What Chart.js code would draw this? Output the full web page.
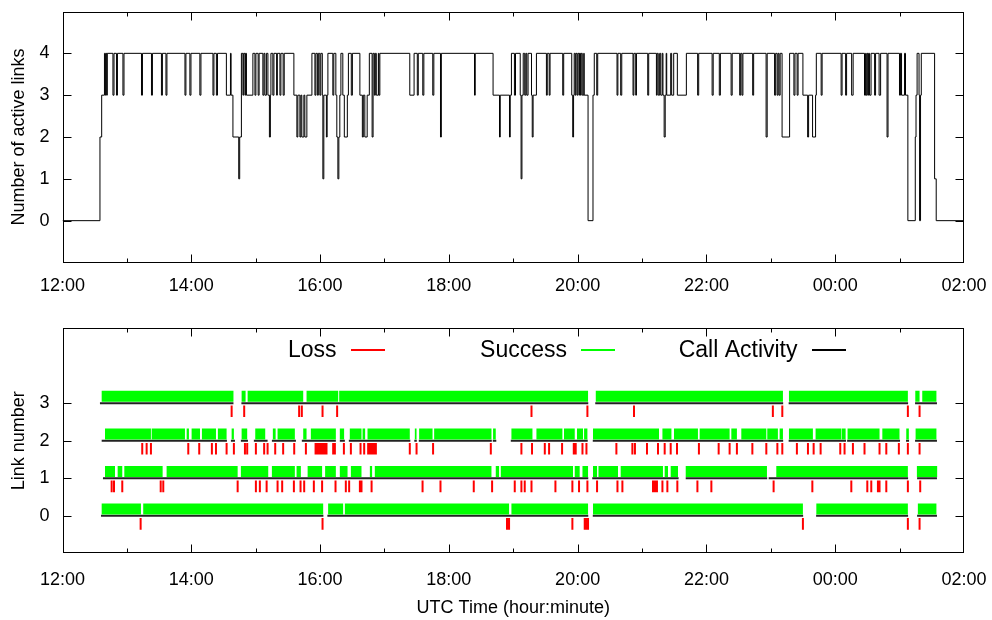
<!DOCTYPE html>
<html><head><meta charset="utf-8">
<script src="https://cdn.jsdelivr.net/npm/chart.js@4/dist/chart.umd.min.js"></script>
<style>
html,body{margin:0;padding:0;background:#fff;}
.box{position:absolute;left:0;width:992px;}
</style></head><body>
<div style="position:relative;width:992px;height:620px;">
<div class="box" style="top:0;height:300px"><canvas id="c1" width="992" height="300"></canvas></div>
<div class="box" style="top:300px;height:320px"><canvas id="c2" width="992" height="320"></canvas></div>
</div>
<script>
// ---------- DATA (time in minutes after 12:00 UTC) ----------
const xTickMinutes = [0, 120, 240, 360, 480, 600, 720, 840];
const xTickLabels = ['12:00', '14:00', '16:00', '18:00', '20:00', '22:00', '00:00', '02:00'];
const activeTicks = [0, 1, 2, 3, 4];
const linkNumbers = [0, 1, 2, 3];
const seriesNames = ['Loss', 'Success', 'Call Activity'];

// [time, number of active links from that time on]
const activeSteps = [
[0,0],[34.9,2],[36.5,3],[39.1,4],[40.0,3],[40.7,4],[41.3,3],[41.7,4],
[47.0,3],[48.0,4],[50.3,3],[51.2,4],[56.3,3],[57.3,4],[73.6,3],[74.5,4],
[82.9,3],[83.8,4],[92.2,3],[93.1,4],[96.4,3],[97.3,4],[114.1,3],[115.0,4],
[118.7,3],[119.7,4],[128.0,3],[129.0,4],[140.2,3],[141.1,4],[143.4,3],[144.4,4],
[152.7,3],[156.5,4],[157.1,3],[158.8,2],[164.2,1],[165.1,2],[166.7,4],
[168.1,3],[168.8,4],[170.0,3],[170.6,4],[171.4,3],[177.4,4],
[179.3,3],[180.2,4],[182.3,3],[183.2,4],[186.7,3],[187.7,4],[188.6,3],[190.0,4],
[191.4,3],[192.8,2],[193.7,3],[194.2,4],[196.0,3],[197.0,4],[199.5,3],[200.2,4],
[202.6,3],[203.5,4],[205.6,3],[206.6,4],
[215.6,3],[218.4,2],[219.3,3],[221.2,2],[222.1,3],[223.0,2],[224.9,3],[225.8,2],[227.7,3],[232.4,4],
[235.2,3],[236.1,4],[237.5,3],[238.4,4],[239.8,3],[240.7,4],
[242.1,3],[242.6,1],[243.5,3],[245.9,2],[246.6,3],[247.3,4],
[251.9,3],[252.8,4],
[254.7,3],[255.6,2],[256.6,1],[257.5,2],[258.4,3],[259.4,4],
[261.2,3],[262.6,2],[265.4,3],[266.4,4],[269.1,3],[270.1,4],
[277.1,3],[279.4,2],[280.3,3],[281.7,2],[283.9,3],[285.9,4],[288.5,2],[289.4,4],
[290.6,3],[291.5,4],[292.4,3],[294.3,4],[294.8,3],[295.7,4],
[323.6,3],[327.6,4],[330.6,3],[331.5,4],[335.7,3],[336.7,4],[345.0,3],[346.0,4],
[352.2,2],[353.0,4],[383.9,3],[384.6,4],
[401.2,3],[407.2,2],[407.9,3],[416.5,2],[417.2,3],[418.3,4],[421.1,3],[422.1,4],
[426.5,3],[427.3,1],[428.1,3],[429.3,4],[430.7,3],[431.7,4],[432.6,3],[433.8,4],
[437.0,3],[437.7,2],[438.5,3],[441.6,4],
[450.9,3],[451.7,4],[453.5,3],[454.3,4],[466.1,3],[467.0,4],
[474.5,3],[475.4,2],[476.2,3],[476.8,4],[477.8,3],[478.5,4],[479.6,3],[480.4,4],
[481.5,3],[481.9,4],[482.6,3],[483.3,4],[484.3,3],[485.7,4],[486.1,3],[489.7,0],
[494.3,3],[495.5,4],[497.8,3],[498.7,4],
[516.7,3],[517.5,4],[520.1,3],[521.1,4],[531.6,3],[532.4,4],[534.1,3],[534.8,4],
[545.3,3],[546.2,4],
[553.4,3],[554.1,4],[555.1,3],[556.4,4],[557.4,3],[558.8,4],[559.5,3],[560.6,2],[561.6,3],[562.5,4],
[563.0,3],[566.7,4],[567.6,3],[569.5,4],[572.9,3],[581.3,4],
[591.8,3],[592.8,4],[605.3,3],[606.3,4],[612.0,3],[613.0,4],[623.0,3],[624.0,4],
[631.0,3],[631.9,4],[633.1,3],[634.0,4],[643.1,3],[644.0,4],
[655.6,2],[656.6,4],
[663.5,3],[664.5,4],[665.9,3],[666.8,4],[667.7,3],[668.7,4],
[670.5,2],[677.5,4],
[681.5,3],[682.5,4],[684.5,3],[685.4,4],
[689.9,3],[694.3,2],[695.2,3],[698.9,2],[701.7,3],[702.4,4],
[706.9,3],[707.8,4],[725.5,3],[726.4,4],[729.7,3],[730.6,4],[735.3,3],[736.7,4],
[747.3,3],[748.3,4],[748.9,3],[749.7,4],[750.4,3],[751.1,4],[752.0,3],[753.4,4],
[756.7,3],[757.6,4],[760.9,3],[762.3,4],[768.3,2],[769.2,4],
[779.9,3],[780.8,4],[781.8,3],[784.6,4],[785.5,3],[787.7,0],
[794.6,2],[795.3,3],[796.3,4],[798.1,3],[798.6,0],[799.5,3],[800.2,4],
[812.6,1],[814.1,0],[840,0]
];

// per link (index = link number): [start, end] intervals
const successIntervals = [
 [[36.5,73.1],[75.2,242.9],[247.5,261.5],[263.1,416.1],[418.3,489.7],[494.3,689.9],[702.4,787.7],[797.0,814.3]],
 [[39.6,48.9],[51.4,55.7],[57.6,93.3],[97.0,163.2],[166.2,191.7],[195.1,216.5],[218.1,222.1],[228.4,241.9],[244.7,254.7],[258.4,265.6],[268.7,278.6],[286.4,288.5],[291.0,399.7],[403.7,406.8],[408.4,475.7],[477.3,481.9],[484.5,489.7],[494.3,498.1],[499.4,517.6],[520.1,559.5],[561.1,564.2],[566.7,573.5],[580.7,656.4],[665.1,787.7],[796.1,815.0]],
 [[39.6,82.4],[83.1,114.1],[115.7,117.8],[120.3,128.1],[129.9,143.0],[144.8,152.9],[157.6,159.7],[166.9,172.1],[179.6,188.9],[196.0,198.6],[200.4,216.5],[224.3,227.4],[231.4,254.7],[258.4,262.4],[267.7,278.6],[279.6,282.0],[284.2,323.6],[328.3,329.9],[332.3,344.8],[346.3,399.7],[401.2,403.7],[418.3,437.9],[441.6,465.8],[467.3,477.3],[479.4,485.0],[486.0,489.1],[494.3,555.8],[559.0,567.4],[569.8,592.1],[593.7,621.6],[623.2,628.4],[632.5,655.8],[656.7,666.6],[668.2,671.3],[676.9,699.2],[701.7,725.7],[726.2,729.7],[731.5,761.3],[763.9,779.9],[786.2,788.6],[794.9,814.3]],
 [[36.5,159.3],[166.9,170.6],[172.5,224.3],[227.4,256.9],[257.8,489.7],[496.9,671.3],[676.9,787.7],[794.6,798.6],[801.1,814.3]]
];
const callIntervals = [
 [[35.9,243.1],[246.8,489.9],[494.1,690.1],[702.2,787.9],[796.3,814.8]],
 [[37.7,489.9],[493.6,574.1],[580.7,656.6],[658.0,787.9],[796.3,814.8]],
 [[36.5,153.2],[156.9,160.7],[166.2,172.8],[178.3,191.1],[195.1,217.5],[223.0,254.7],[258.4,263.1],[266.8,324.1],[327.8,330.1],[332.0,400.0],[400.9,404.2],[417.7,489.4],[494.1,671.5],[676.6,730.1],[731.1,780.4],[786.0,788.8],[794.4,814.8]],
 [[34.9,159.3],[166.7,489.9],[496.4,671.5],[676.6,787.9],[794.4,814.8]]
];
const lossTimes = [
 [72.8,242.3,414.2,415.2,416.1,475.1,486.6,487.6,488.6,489.7,689.9,787.7,798.6],
 [45.8,48.0,55.7,91.5,93.9,163.2,180.2,183.9,190.2,200.4,204.7,215.6,221.8,225.2,234.2,241.9,254.4,264.0,267.1,277.1,278.6,288.0,335.5,352.2,383.2,400.3,421.4,427.6,430.7,437.0,459.3,475.1,481.3,489.1,498.1,517.1,521.7,550.2,551.5,552.7,553.9,559.0,563.6,572.9,591.6,604.6,662.6,698.7,735.0,749.9,753.6,759.8,761.3,767.6,787.7,799.2],
 [74.3,78.4,82.4,117.2,127.4,139.2,143.0,152.9,159.7,170.0,172.1,180.2,187.9,191.1,198.2,205.6,215.9,226.8,235.8,236.8,237.6,238.5,239.4,240.3,241.2,242.0,243.0,244.0,245.0,246.0,252.2,253.8,262.2,268.7,277.7,281.1,284.8,285.8,286.8,287.9,289.0,290.0,291.0,292.0,323.6,329.9,345.3,399.1,427.6,437.5,449.4,453.4,465.5,476.4,478.2,484.5,488.2,516.1,531.0,533.4,544.6,554.9,561.1,566.7,572.6,593.0,611.4,621.6,628.4,642.8,655.8,666.1,670.7,684.3,694.6,699.9,706.4,724.7,728.7,736.5,747.3,761.3,767.6,779.3,787.7,798.6],
 [157.6,169.3,220.5,223.0,242.3,255.9,437.0,489.1,532.5,661.9,670.7,787.7,798.6]
];

// ---------- STYLE / RENDER ----------
const FONT = '"Liberation Sans", Arial, sans-serif';
const FS = 18;
Chart.defaults.font.family = FONT;
Chart.defaults.color = '#000';
Chart.defaults.animation = false;
const COLORS = {loss: '#ff0000', success: '#00ff00', call: '#222222'};

const framePlugin = {
  id: 'frame',
  afterDraw(chart) {
    const {ctx, chartArea: a, scales: {x, y}} = chart;
    const L0 = Math.round(a.left) + 0.5, R0 = Math.round(a.right) - 0.5;
    const T0 = Math.round(a.top) + 0.5, B0 = Math.round(a.bottom) - 0.5;
    ctx.save();
    ctx.strokeStyle = '#000';
    ctx.lineWidth = 1;
    ctx.strokeRect(L0, T0, R0 - L0, B0 - T0);
    ctx.beginPath();
    y.ticks.forEach(t => {
      const py = Math.round(y.getPixelForValue(t.value)) + 0.5;
      ctx.moveTo(L0, py); ctx.lineTo(L0 + 8, py);
      ctx.moveTo(R0, py); ctx.lineTo(R0 - 8, py);
    });
    for (let v = x.min + 60; v < x.max; v += 60) {
      const px = Math.round(x.getPixelForValue(v)) + 0.5;
      const L = (v % 120 === 0) ? 8 : 4;
      ctx.moveTo(px, B0); ctx.lineTo(px, B0 - L);
      ctx.moveTo(px, T0); ctx.lineTo(px, T0 + L);
    }
    ctx.stroke();
    ctx.restore();
  }
};

function xScale(height, pad, withTitle) {
  return {
    type: 'linear', min: xTickMinutes[0], max: xTickMinutes[xTickMinutes.length - 1],
    afterBuildTicks: s => { s.ticks = xTickMinutes.map(v => ({value: v})); },
    afterFit: s => { s.height = height; s.paddingLeft = 0; s.paddingRight = 0; },
    grid: {display: false, drawTicks: false, tickLength: 0},
    border: {display: false},
    ticks: {autoSkip: false, maxRotation: 0, padding: pad, font: {size: FS},
      callback: v => xTickLabels[xTickMinutes.indexOf(v)]},
    title: {display: withTitle, text: 'UTC Time (hour:minute)', font: {size: FS}, padding: {top: 0, bottom: 1}}
  };
}
function yScale(ticks, title) {
  return {
    min: -1, max: 5,
    afterBuildTicks: s => { s.ticks = ticks.map(v => ({value: v})); },
    afterFit: s => { s.width = 62.5; s.paddingTop = 0; s.paddingBottom = 0; },
    grid: {display: false, drawTicks: false, tickLength: 0},
    border: {display: false},
    ticks: {padding: 13, font: {size: FS}},
    title: {display: true, text: title, font: {size: FS}, padding: {top: 8, bottom: 0}}
  };
}

// Top chart
new Chart(document.getElementById('c1'), {
  type: 'line',
  data: {datasets: [{
    label: 'Number of active links',
    data: activeSteps.map(([t, n]) => ({x: t, y: n})),
    stepped: true, borderColor: '#000', borderWidth: 1, pointRadius: 0, fill: false
  }]},
  options: {
    responsive: false, animation: false,
    layout: {padding: {top: 11.5, right: 28, left: 0, bottom: 0}},
    plugins: {legend: {display: false}, tooltip: {enabled: false}},
    scales: {x: xScale(37.5, 12.5, false), y: yScale(activeTicks, 'Number of active links')}
  },
  plugins: [framePlugin]
});

// Bottom chart
function intervalPoints(list, yv) {
  const out = [];
  list.forEach(([a, b]) => { out.push({x: a, y: yv}, {x: b, y: yv}, {x: b, y: null}); });
  return out;
}
function tickPoints(list, y1, y2) {
  const out = [];
  list.forEach(t => { out.push({x: t, y: y1}, {x: t, y: y2}, {x: t, y: null}); });
  return out;
}
const datasets = [];
linkNumbers.forEach(k => {
  datasets.push({label: seriesNames[1], data: intervalPoints(successIntervals[k], k + 0.18),
    borderColor: COLORS.success, borderWidth: 11, borderCapStyle: 'butt', pointRadius: 0, spanGaps: false, fill: false});
  datasets.push({label: seriesNames[2], data: intervalPoints(callIntervals[k], k),
    borderColor: COLORS.call, borderWidth: 2, borderCapStyle: 'butt', pointRadius: 0, spanGaps: false, fill: false});
  datasets.push({label: seriesNames[0], data: tickPoints(lossTimes[k], k - 0.06, k - 0.37),
    borderColor: COLORS.loss, borderWidth: 2, borderCapStyle: 'butt', pointRadius: 0, spanGaps: false, fill: false});
});

const keyPlugin = {
  id: 'key',
  afterDraw(chart) {
    const {ctx, chartArea: a} = chart;
    const items = [[seriesNames[0], COLORS.loss], [seriesNames[1], COLORS.success], [seriesNames[2], '#000000']];
    ctx.save();
    ctx.font = '23px ' + FONT;
    ctx.textAlign = 'right';
    ctx.textBaseline = 'middle';
    const yy = Math.round(a.top + 23);
    items.forEach(([label, color], i) => {
      const right = a.left + 274 + i * 230.5;
      ctx.fillStyle = '#000';
      ctx.fillText(label, right, yy);
      ctx.fillStyle = color;
      ctx.fillRect(Math.round(right + 14), yy - 2, 34, 2);
    });
    ctx.restore();
  }
};

new Chart(document.getElementById('c2'), {
  type: 'line',
  data: {datasets},
  options: {
    responsive: false, animation: false,
    layout: {padding: {top: 28, right: 28, left: 0, bottom: 0}},
    plugins: {legend: {display: false}, tooltip: {enabled: false}},
    scales: {x: xScale(66.6, 15.5, true), y: yScale(linkNumbers, 'Link number')}
  },
  plugins: [framePlugin, keyPlugin]
});
</script>
</body></html>
